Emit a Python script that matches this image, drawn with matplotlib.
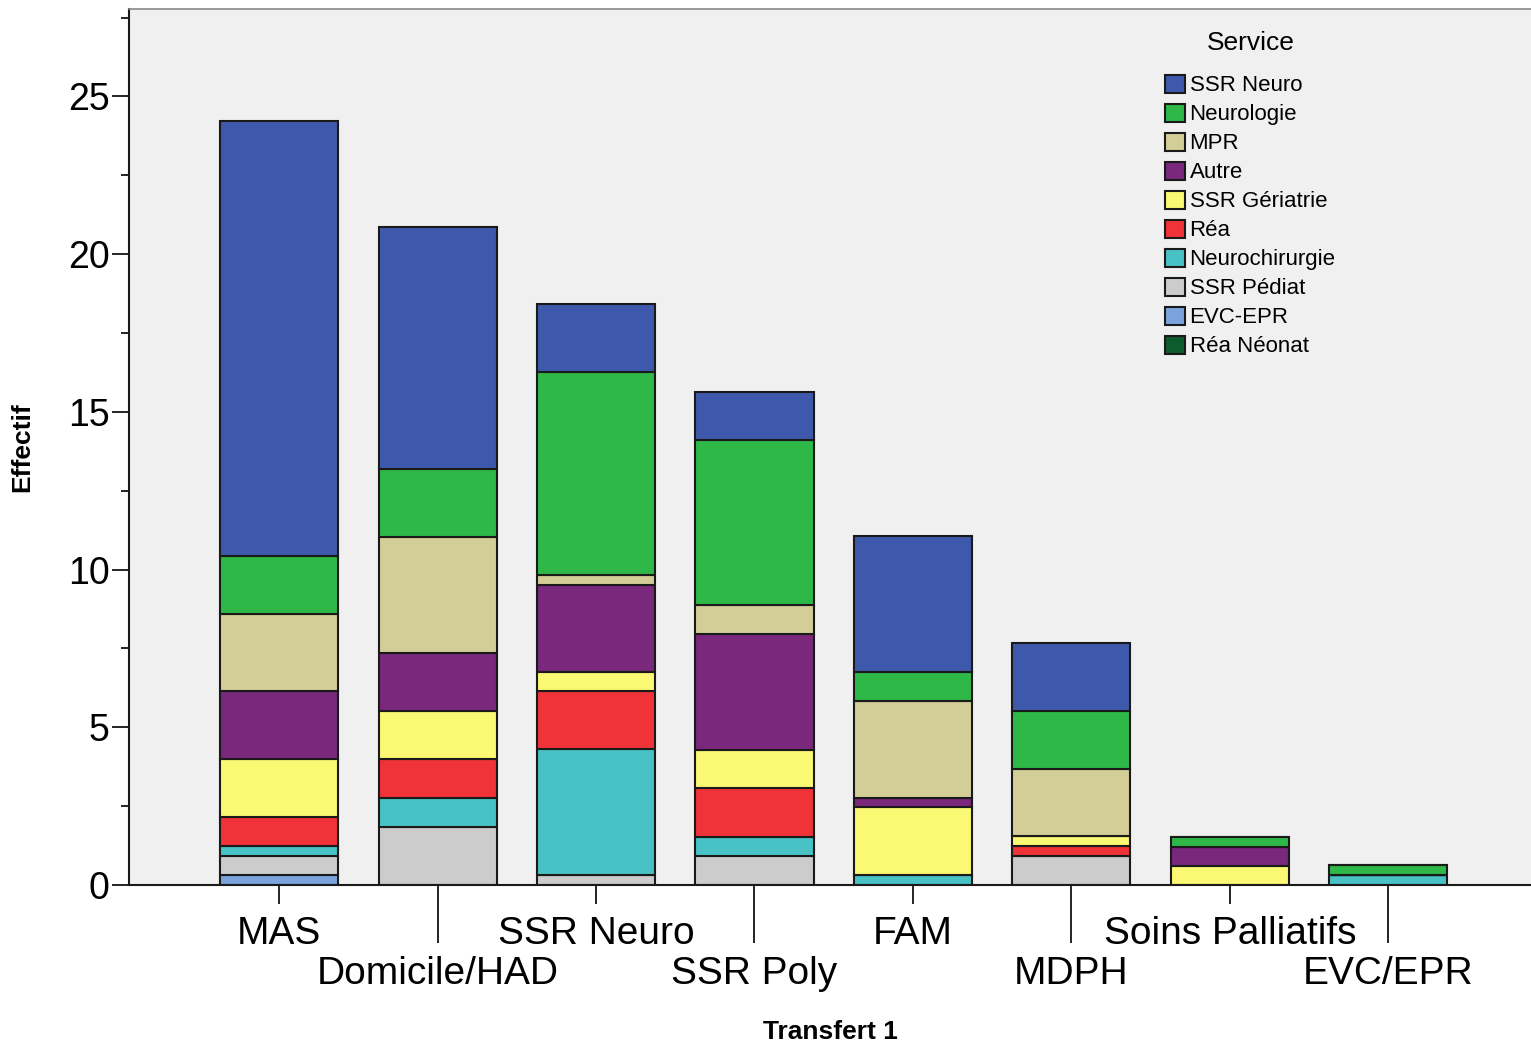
import matplotlib.pyplot as plt
import numpy as np

plt.rcParams['font.family'] = ['Liberation Sans', 'DejaVu Sans']

# categories (x axis) and services (stack), bottom of stack first
transferts = ['MAS', 'Domicile/HAD', 'SSR Neuro', 'SSR Poly', 'FAM', 'MDPH',
              'Soins Palliatifs', 'EVC/EPR']
services = ['Réa Néonat', 'EVC-EPR', 'SSR Pédiat', 'Neurochirurgie', 'Réa',
            'SSR Gériatrie', 'Autre', 'MPR', 'Neurologie', 'SSR Neuro']

rea_neonat = [0, 0, 0, 0, 0, 0, 0, 0]
evc_epr = [0.31, 0, 0, 0, 0, 0, 0, 0]
ssr_pediat = [0.61, 1.84, 0.31, 0.92, 0, 0.92, 0, 0]
neurochir = [0.31, 0.92, 3.99, 0.61, 0.31, 0, 0, 0.31]
rea = [0.92, 1.23, 1.84, 1.53, 0, 0.31, 0, 0]
ssr_geria = [1.84, 1.53, 0.61, 1.23, 2.15, 0.31, 0.61, 0]
autre = [2.15, 1.84, 2.76, 3.68, 0.31, 0, 0.61, 0]
mpr = [2.45, 3.68, 0.31, 0.92, 3.07, 2.15, 0, 0]
neurologie = [1.84, 2.15, 6.44, 5.21, 0.92, 1.84, 0.31, 0.31]
ssr_neuro = [13.80, 7.67, 2.15, 1.53, 4.29, 2.15, 0, 0]

series = [rea_neonat, evc_epr, ssr_pediat, neurochir, rea, ssr_geria,
          autre, mpr, neurologie, ssr_neuro]
colors = ['#0d5c2e', '#7ba4dd', '#cccccc', '#48c2c5', '#ef3338', '#fbf873',
          '#79287c', '#d3ce97', '#2eb848', '#3e58ac']

fig = plt.figure(figsize=(15.31, 10.47), dpi=100)
ax = fig.add_axes([129/1531, 1-885/1047, 1-129/1531, (885-9)/1047])
ax.set_facecolor('#f0f0f0')

x = np.arange(len(transferts))
bottom = np.zeros(len(transferts))
handles = []
for vals, col, name in zip(series, colors, services):
    b = ax.bar(x, vals, width=0.745, bottom=bottom, color=col,
               edgecolor='#1a1a1a', linewidth=1.5, label=name)
    bottom += np.array(vals)
    handles.append(b)

ax.set_xlim(-0.947, 7.90)
ax.set_ylim(0, 27.77)

# y axis
ax.set_yticks([0, 5, 10, 15, 20, 25])
ax.set_yticks(np.arange(2.5, 28, 5), minor=True)
ax.tick_params(axis='y', which='major', length=12, width=1.2, labelsize=27, pad=2)
ax.tick_params(axis='y', which='minor', length=6, width=1.2)
ax.set_ylabel('Effectif', fontsize=19, fontweight='bold', labelpad=24)

# x axis, staggered labels
ax.set_xticks(x[::2])
ax.set_xticklabels(transferts[::2])
ax.set_xticks(x[1::2], minor=True)
ax.set_xticklabels(transferts[1::2], minor=True)
ax.tick_params(axis='x', which='major', length=14, width=1.2, labelsize=28, pad=8)
ax.tick_params(axis='x', which='minor', length=42, width=1.2, labelsize=28, pad=9)
ax.set_xlabel('Transfert 1', fontsize=19, fontweight='bold', labelpad=20)

for s in ['left', 'bottom']:
    ax.spines[s].set_linewidth(1.5)
    ax.spines[s].set_color('#1a1a1a')
ax.spines['right'].set_visible(False)
ax.spines['top'].set_color('#888888')
ax.spines['top'].set_linewidth(1.2)

leg = ax.legend(handles[::-1], services[::-1], title='Service',
                loc='upper left', bbox_to_anchor=(1154/1531, 1-20/1047),
                bbox_transform=fig.transFigure, frameon=False, fontsize=16,
                title_fontsize=19, handlelength=0.9, handleheight=0.9,
                handletextpad=0.2, labelspacing=0.32, borderpad=0)
leg._legend_box.sep = 14

fig.savefig('out.png', dpi=100)
